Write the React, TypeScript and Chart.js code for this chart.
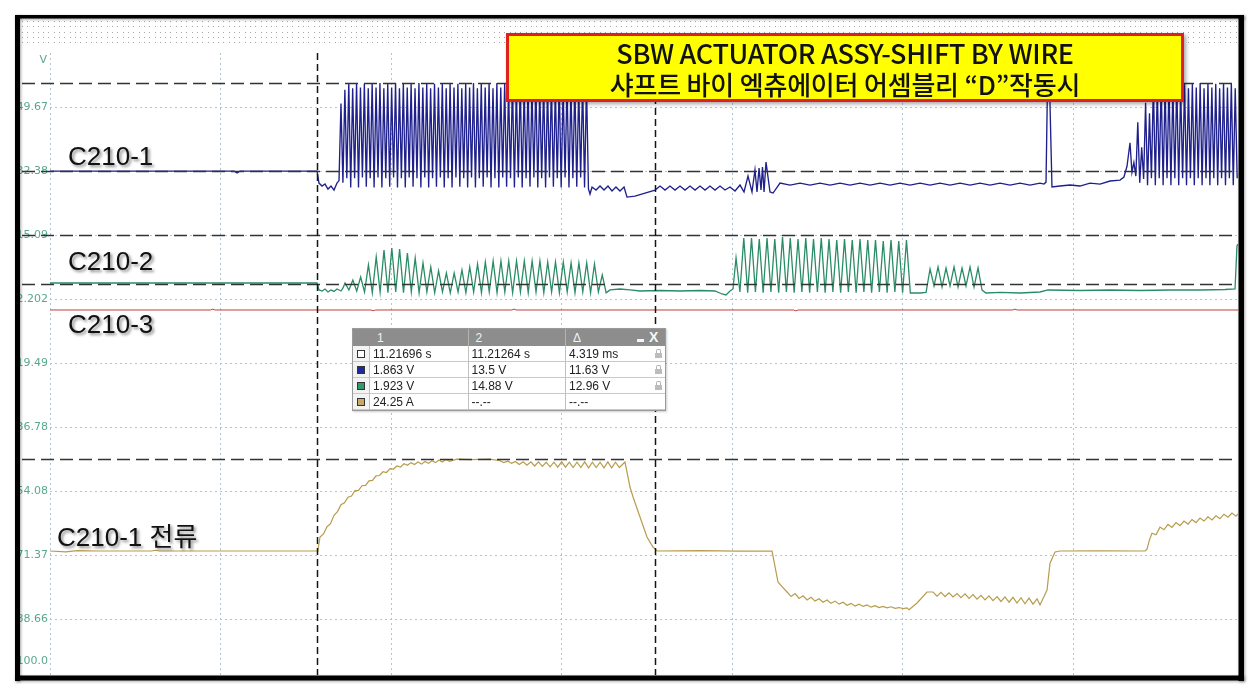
import React, { useEffect, useRef } from "react";
import { Chart, registerables } from "chart.js";

Chart.register(...registerables);

// ---------------- text ----------------
const AXIS_UNIT = "V";
const TICK_VALUES = [49.67, 32.38, 15.09, -2.202, -19.49, -36.78, -54.08, -71.37, -88.66, -100.0];
const TICK_LABELS = ["49.67", "32.38", "15.09", "2.202", "19.49", "36.78", "54.08", "71.37", "88.66", "100.0"];
const GRID_TIMES_MS = [0, 2.178, 4.356, 6.534, 8.712, 10.89, 13.068];
const TITLE_LINES = ["SBW  ACTUATOR ASSY-SHIFT BY WIRE", "샤프트 바이 엑츄에이터 어셈블리 “D”작동시"];
const CHANNEL_LABELS = ["C210-1", "C210-2", "C210-3", "C210-1 전류"];

// ---------------- cursors ----------------
const TIME_ORIGIN_S = 11.209228;
const CURSOR_TIMES_S = [11.21696, 11.21264];
const BLUE_CURSORS_V = [1.863, 13.5];
const GREEN_CURSORS_V = [1.923, 14.88];
const AMP_CURSORS_A = [24.25];

const TABLE_HEAD = ["1", "2", "Δ"];
const TABLE_TIME = ["11.21696 s", "11.21264 s", "4.319 ms"];
const TABLE_BLUE = ["1.863 V", "13.5 V", "11.63 V"];
const TABLE_GREEN = ["1.923 V", "14.88 V", "12.96 V"];
const TABLE_AMP = ["24.25 A", "--.--", "--.--"];

// ---------------- C210-1 (V) ----------------
const BLUE_LEAD = [
  [0, 1.86], [2.351, 1.86], [2.39, 1.6], [2.428, 1.86], [3.412, 1.86], [3.437, 0.27], [3.476, -0.12],
  [3.514, 0.14], [3.552, -0.52], [3.591, -0.12], [3.629, -0.65], [3.667, 0.27], [3.693, 0.6],
];
const BLUE_BURST1_START = 3.718;
const BLUE_STEP = 0.0249;
const BLUE_BURST1_PEAKS = [
  10.8, 12.6, 13.5, 12.8, 13.5, 12.9, 13.4, 12.8, 13.5, 12.9, 13.5, 12.8, 13.4, 12.9, 13.5, 12.8,
  13.5, 12.9, 13.4, 12.8, 13.5, 12.9, 13.5, 12.8, 13.4, 12.9, 13.5, 12.8, 13.5, 12.9, 13.4, 12.8,
  13.5, 12.9, 13.5, 12.8, 13.4, 12.9, 13.5, 12.8, 13.5, 12.9, 13.4, 12.8, 13.5, 12.9, 13.5, 12.8,
  13.4, 12.9, 13.5, 12.8, 13.5, 12.9, 13.4, 12.8, 13.5, 12.9, 13.5, 12.8, 13.4, 12.9, 13.5, 13.3,
];
const BLUE_BURST1_TROUGHS = [
  0.3, 0.9, -0.3, 0.9, -0.3, 1.0, -0.2, 0.9, -0.3, 1.0, -0.3, 0.9, -0.2, 1.0, -0.3, 0.9,
  -0.3, 1.0, -0.2, 0.9, -0.3, 1.0, -0.3, 0.9, -0.2, 1.0, -0.3, 0.9, -0.3, 1.0, -0.2, 0.9,
  -0.3, 1.0, -0.3, 0.9, -0.2, 1.0, -0.3, 0.9, -0.3, 1.0, -0.2, 0.9, -0.3, 1.0, -0.3, 0.9,
  -0.2, 1.0, -0.3, 0.9, -0.3, 1.0, -0.2, 0.9, -0.3, 1.0, -0.3, 0.9, -0.2, 1.0, -0.3, -0.5,
];
const BLUE_MID = [
  [6.9, -1.18], [6.926, -0.25], [6.977, -0.65], [7.028, -0.12], [7.079, -0.65], [7.13, -0.12], [7.181, -0.78],
  [7.232, -0.25], [7.283, -0.78], [7.335, -0.25], [7.373, -1.58], [7.475, -1.45], [7.603, -1.05], [7.731, -0.65],
  [7.795, -0.12], [7.859, -0.65], [7.922, -0.12], [7.986, -0.65], [8.05, -0.12], [8.114, -0.65], [8.178, -0.12],
  [8.242, -0.65], [8.306, -0.12], [8.37, -0.65], [8.433, -0.12], [8.497, -0.65], [8.561, -0.12], [8.625, -0.65],
  [8.689, -0.25], [8.753, -0.78], [8.817, 0.01], [8.868, -0.91], [8.919, 1.2], [8.97, -0.91], [9.008, 2.0],
  [9.034, -0.91], [9.06, 2.26], [9.085, -0.65], [9.104, 2.39], [9.124, -0.91], [9.149, 3.05], [9.2, -0.91],
  [9.239, -1.05], [9.328, 0.27], [9.456, 0.0], [9.584, 0.27], [9.711, 0.0], [9.839, 0.27], [9.967, 0.0],
  [10.095, 0.27], [10.222, 0.0], [10.35, 0.27], [10.478, 0.0], [10.606, 0.27], [10.733, 0.0], [10.861, 0.27],
  [10.989, 0.0], [11.117, 0.27], [11.245, 0.0], [11.372, 0.27], [11.5, 0.0], [11.628, 0.27], [11.756, 0.0],
  [11.884, 0.27], [12.011, 0.0], [12.139, 0.27], [12.267, 0.0], [12.395, 0.27], [12.522, 0.0], [12.65, 0.27],
  [12.701, 0.14], [12.727, 0.4], [12.746, 13.5], [12.772, 13.2], [12.803, -0.25], [12.906, -0.12],
  [13.033, 0.01], [13.161, -0.12], [13.289, 0.27], [13.417, 0.14], [13.545, 0.54], [13.672, 0.67],
  [13.723, 1.07], [13.762, 2.5],
];
const BLUE_BURST2_START = 13.8;
const BLUE_BURST2_PEAKS = [
  5.6, 3.0, 8.3, 5.0, 10.9, 9.5, 13.5, 12.8, 13.5, 12.9, 13.4, 12.8, 13.5, 12.9,
  13.5, 12.8, 13.4, 12.9, 13.5, 12.8, 13.5, 12.9, 13.4, 12.8, 13.5, 12.9, 13.5, 12.8,
];
const BLUE_BURST2_TROUGHS = [
  1.7, 1.2, 0.3, 0.8, 0.0, 0.9, 0.0, 0.9, 0.0, 0.9, 0.0, 0.9, 0.0, 0.9,
  0.0, 0.9, 0.0, 0.9, 0.0, 0.9, 0.0, 0.9, 0.0, 0.9, 0.0, 0.9, 0.0, 0.9,
];

// ---------------- C210-2 (V) ----------------
const GREEN_LEAD = [
  [0, 2.19], [3.412, 2.19], [3.437, 0.34], [3.476, 0.07], [3.514, 0.6], [3.552, -0.19], [3.591, 0.34],
  [3.629, -0.05], [3.667, 0.6], [3.718, 0.07], [3.744, 0.87],
];
const GREEN_BURST1_START = 3.77;
const GREEN_STEP1 = 0.0498;
const GREEN_BURST1_PEAKS = [
  2.19, 2.98, 3.77, 6.95, 9.06, 10.91, 11.44, 11.18, 10.12, 8.8, 7.48, 6.42, 5.36, 4.83, 4.83, 5.62, 6.42,
  7.21, 7.74, 8.0, 8.0, 8.0, 8.0, 8.0, 8.0, 8.0, 7.74, 7.74, 7.74, 7.48, 7.48, 7.48, 7.21, 4.3,
];
const GREEN_BURST1_TROUGHS = [
  0.34, 0.07, -0.19, -0.4, -0.19, -0.4, -0.19, -0.4, -0.19, -0.4, -0.19, -0.4, -0.19, -0.4, -0.19, -0.4, -0.19,
  -0.4, -0.19, -0.4, -0.19, -0.4, -0.19, -0.4, -0.19, -0.4, -0.19, -0.4, -0.19, -0.4, -0.19, -0.4, -0.19, -0.4,
];
const GREEN_MID = [
  [7.156, 0.34], [7.283, 0.6], [7.411, 0.34], [7.539, 0.07], [7.795, 0.2], [8.05, 0.07], [8.306, 0.2],
  [8.497, 0.07], [8.587, -0.72], [8.638, -0.98], [8.689, 0.07], [8.727, 0.6],
];
const GREEN_BURST2_START = 8.766;
const GREEN_STEP2 = 0.0495;
const GREEN_BURST2_PEAKS = [
  8.8, 14.09, 14.09, 13.83, 14.09, 13.83, 14.35, 14.09, 13.83, 14.09, 13.83, 14.09,
  13.83, 13.56, 13.83, 13.56, 13.83, 13.56, 13.56, 13.3, 13.56, 13.3, 13.56,
];
const GREEN_BURST2_TROUGHS = [
  -0.19, -0.4, -0.19, -0.4, -0.19, -0.4, -0.19, -0.4, -0.19, -0.4, -0.19, -0.4,
  -0.19, -0.4, -0.19, -0.4, -0.19, -0.4, -0.19, -0.4, -0.19, -0.4, -0.46,
];
const GREEN_GAP = [[11.04, -0.46], [11.117, -0.46], [11.194, -0.32]];
const GREEN_BURST3_START = 11.245;
const GREEN_STEP3 = 0.0511;
const GREEN_BURST3_PEAKS = [5.9, 6.42, 6.15, 6.42, 6.15, 6.42, 6.15];
const GREEN_BURST3_TROUGHS = [1.4, 1.1, 1.4, 1.1, 1.4, 1.1, 0.3];
const GREEN_TAIL = [
  [11.96, -0.46], [12.139, -0.32], [12.395, -0.46], [12.65, -0.19], [12.752, 0.34], [13.161, 0.2],
  [13.545, 0.34], [13.928, 0.2], [14.311, 0.34], [14.695, 0.34], [15.014, 0.47], [15.142, 0.6], [15.167, 11.97],
  [15.18, 12.5],
];

// ---------------- C210-3 ----------------
const RED_POINTS = [
  [0, -5.17], [2.05, -5.17], [2.08, -4.95], [2.11, -5.17], [4.1, -5.17], [4.13, -5.35], [4.16, -5.17],
  [5.9, -5.17], [5.93, -4.95], [5.96, -5.17], [9.5, -5.17], [9.53, -5.4], [9.56, -5.17], [12.3, -5.17],
  [12.33, -4.95], [12.36, -5.17], [15.18, -5.17],
];

// ---------------- C210-1 전류 (A) ----------------
const AMP_LEAD = [[0, 0], [0.2, -0.25], [0.35, 0.1], [0.6, 0.0], [1.3, 0.0], [1.35, 0.2], [1.4, 0.0], [3.412, 0], [3.424, 0.3]];
const AMP_RISE_START = 3.45;
const AMP_RISE_STEP = 0.04472;
const AMP_RISE = [
  3.7, 4.5, 6.4, 7.2, 9.4, 10.4, 12.2, 12.7, 14.2, 14.5, 15.9, 16.0, 17.2, 17.3, 18.5, 18.6, 19.8, 19.9, 20.9,
  20.7, 21.7, 21.6, 22.4, 22.1, 23.0, 22.6, 23.3, 22.8, 23.45, 22.9, 23.6, 23.1, 23.8, 23.3, 24.0, 23.45, 24.15, 23.65,
];
const AMP_PLATEAU_PTS = [[5.2, 24.2], [5.367, 24.1], [5.622, 24.2]];
const AMP_RIPPLE_START = 5.75;
const AMP_RIPPLE_STEP = 0.0492;
const AMP_RIPPLE = [
  23.8, 23.3, 23.7, 23.1, 23.6, 22.8, 23.5, 22.6, 23.5, 22.4, 23.5, 22.3, 23.4, 22.2, 23.4, 22.1,
  23.5, 22.1, 23.4, 22.0, 23.4, 22.0, 23.5, 21.9, 23.4, 22.0, 23.4, 21.9, 23.5, 21.9, 23.4, 22.0,
];
const AMP_DROP = [
  [7.347, 23.46], [7.411, 16.87], [7.45, 14.23], [7.539, 8.96], [7.628, 3.69], [7.705, 1.05], [7.756, 0],
  [8.3, 0.1], [8.8, -0.05], [9.226, 0], [9.302, -8.17], [9.36, -9.5],
];
const AMP_NEG_STEP = 0.0511;
const AMP_NEG_A_START = 9.418;
const AMP_NEG_A = [
  -10.8, -12.0, -11.2, -12.5, -11.8, -12.9, -12.2, -13.2, -12.6, -13.5, -12.9, -13.8, -13.2, -14.0, -13.5, -14.3,
  -13.8, -14.5, -14.0, -14.6, -14.2, -14.8, -14.4, -14.9, -14.6, -15.0, -14.7, -15.1, -14.9, -15.2, -15.0,
];
const AMP_DIP = [[10.977, -15.5], [11.079, -13.7], [11.206, -10.8]];
const AMP_NEG_B_START = 11.283;
const AMP_NEG_B = [
  -10.8, -11.9, -10.9, -12.0, -11.0, -12.1, -11.2, -12.3, -11.3, -12.5, -11.5, -12.7, -11.7, -12.9,
  -11.8, -13.1, -12.0, -13.3, -12.1, -13.5, -12.2, -13.7, -12.3, -13.9, -12.4, -14.0, -12.6,
];
const AMP_RETURN = [
  [12.65, -14.2], [12.74, -10.3], [12.778, -3.2], [12.842, -0.26], [12.906, 0], [13.417, 0.05], [13.992, 0],
  [14.017, 0.5], [14.05, 3.0],
];
const AMP_END_START = 14.081;
const AMP_END = [4.7, 4.3, 6.3, 5.6, 7.0, 6.2, 7.5, 6.7, 7.9, 7.1, 8.3, 7.5, 8.7, 7.9, 9.0, 8.2, 9.3, 8.5, 9.7, 8.9, 10.0, 9.2, 10.3];

// ---------------- layout (positions, not data) ----------------
const W = 1259;
const H = 697;
const X_MAX_MS = 15.18;
const LABEL_RANGE = [-103.78, 65.34];
const BLUE_RANGE = [-64.78, 18.0];
const GREEN_RANGE = [-101.47, 64.06];
const AMP_RANGE = [-32.68, 132.32];

type P = { x: number; y: number };
const fromPairs = (pairs: number[][]): P[] => pairs.map(([x, y]) => ({ x, y }));
const fromSamples = (t0: number, dt: number, vals: number[]): P[] => vals.map((y, i) => ({ x: t0 + i * dt, y }));
const fromExtrema = (t0: number, dt: number, peaks: number[], troughs: number[]): P[] => {
  const out: P[] = [];
  peaks.forEach((p, i) => {
    out.push({ x: t0 + 2 * i * dt, y: p });
    if (i < troughs.length) out.push({ x: t0 + (2 * i + 1) * dt, y: troughs[i] });
  });
  return out;
};

const blueData = [
  ...fromPairs(BLUE_LEAD),
  ...fromExtrema(BLUE_BURST1_START, BLUE_STEP, BLUE_BURST1_PEAKS, BLUE_BURST1_TROUGHS),
  ...fromPairs(BLUE_MID),
  ...fromExtrema(BLUE_BURST2_START, BLUE_STEP, BLUE_BURST2_PEAKS, BLUE_BURST2_TROUGHS),
];
const greenData = [
  ...fromPairs(GREEN_LEAD),
  ...fromExtrema(GREEN_BURST1_START, GREEN_STEP1, GREEN_BURST1_PEAKS, GREEN_BURST1_TROUGHS),
  ...fromPairs(GREEN_MID),
  ...fromExtrema(GREEN_BURST2_START, GREEN_STEP2, GREEN_BURST2_PEAKS, GREEN_BURST2_TROUGHS),
  ...fromPairs(GREEN_GAP),
  ...fromExtrema(GREEN_BURST3_START, GREEN_STEP3, GREEN_BURST3_PEAKS, GREEN_BURST3_TROUGHS),
  ...fromPairs(GREEN_TAIL),
];
const redData = fromPairs(RED_POINTS);
const ampData = [
  ...fromPairs(AMP_LEAD),
  ...fromSamples(AMP_RISE_START, AMP_RISE_STEP, AMP_RISE),
  ...fromPairs(AMP_PLATEAU_PTS),
  ...fromSamples(AMP_RIPPLE_START, AMP_RIPPLE_STEP, AMP_RIPPLE),
  ...fromPairs(AMP_DROP),
  ...fromSamples(AMP_NEG_A_START, AMP_NEG_STEP, AMP_NEG_A),
  ...fromPairs(AMP_DIP),
  ...fromSamples(AMP_NEG_B_START, AMP_NEG_STEP, AMP_NEG_B),
  ...fromPairs(AMP_RETURN),
  ...fromSamples(AMP_END_START, AMP_NEG_STEP, AMP_END),
];

const scopePlugin = {
  id: "scope",
  beforeDraw(chart: any) {
    const ctx = chart.ctx;
    ctx.save();
    ctx.fillStyle = "#ffffff";
    ctx.fillRect(0, 0, chart.width, chart.height);
    ctx.fillStyle = "#a6a6a6";
    for (let y = 21; y <= 47; y += 5.3) {
      for (let x = 22; x < 1238; x += 5.3) ctx.fillRect(Math.round(x), Math.round(y), 1, 1);
    }
    ctx.restore();
  },
  beforeDatasetsDraw(chart: any) {
    const { ctx, chartArea: ca, scales } = chart;
    const xs = scales.x;
    const yl = scales.yLabel;
    ctx.save();
    ctx.strokeStyle = "#b3c5ce";
    ctx.lineWidth = 1;
    ctx.setLineDash([2, 3]);
    GRID_TIMES_MS.forEach((t) => {
      const px = Math.round(xs.getPixelForValue(t)) + 0.5;
      ctx.beginPath();
      ctx.moveTo(px, ca.top + 4);
      ctx.lineTo(px, ca.bottom);
      ctx.stroke();
    });
    TICK_VALUES.forEach((v, i) => {
      if (i === TICK_VALUES.length - 1) return;
      const py = Math.round(yl.getPixelForValue(v)) + 0.5;
      ctx.beginPath();
      ctx.moveTo(ca.left, py);
      ctx.lineTo(ca.right, py);
      ctx.stroke();
    });
    ctx.setLineDash([]);
    ctx.fillStyle = "#5aa88b";
    ctx.font = '11px "DejaVu Sans", sans-serif';
    ctx.textAlign = "right";
    ctx.textBaseline = "middle";
    TICK_VALUES.forEach((v, i) => ctx.fillText(TICK_LABELS[i], 48, yl.getPixelForValue(v)));
    ctx.fillText(AXIS_UNIT, 47, 60);
    ctx.restore();
  },
  afterDatasetsDraw(chart: any) {
    const { ctx, chartArea: ca, scales } = chart;
    ctx.save();
    ctx.strokeStyle = "#333333";
    ctx.lineWidth = 1.7;
    ctx.setLineDash([13, 6]);
    const hLine = (py: number) => {
      const y = Math.round(py) + 0.5;
      ctx.beginPath();
      ctx.moveTo(22, y);
      ctx.lineTo(ca.right, y);
      ctx.stroke();
    };
    BLUE_CURSORS_V.forEach((v) => hLine(scales.yBlue.getPixelForValue(v)));
    GREEN_CURSORS_V.forEach((v) => hLine(scales.yGreen.getPixelForValue(v)));
    AMP_CURSORS_A.forEach((v) => hLine(scales.yAmp.getPixelForValue(v)));
    ctx.strokeStyle = "#151515";
    ctx.lineWidth = 1.5;
    ctx.setLineDash([7, 4]);
    CURSOR_TIMES_S.forEach((s) => {
      const px = Math.round(scales.x.getPixelForValue((s - TIME_ORIGIN_S) * 1000)) + 0.5;
      ctx.beginPath();
      ctx.moveTo(px, ca.top + 4);
      ctx.lineTo(px, ca.bottom);
      ctx.stroke();
    });
    ctx.restore();
  },
  afterDraw(chart: any) {
    const ctx = chart.ctx;
    ctx.save();
    ctx.shadowColor = "rgba(0,0,0,0.35)";
    ctx.shadowBlur = 3;
    ctx.shadowOffsetX = 1;
    ctx.shadowOffsetY = 1;
    ctx.fillStyle = "#000";
    ctx.fillRect(15, 15, 1229, 3.5);
    ctx.fillRect(15, 15, 5, 666);
    ctx.fillRect(1238.5, 15, 5.5, 666);
    ctx.fillRect(15, 675.5, 1229, 5);
    ctx.restore();
  },
};

const lineDs = (label: string, data: P[], axis: string, color: string, width: number) => ({
  label,
  data,
  yAxisID: axis,
  xAxisID: "x",
  showLine: true,
  borderColor: color,
  backgroundColor: color,
  borderWidth: width,
  pointRadius: 0,
  tension: 0,
  fill: false,
});

const labelStyle: React.CSSProperties = {
  position: "absolute",
  font: '26px "Liberation Sans", Arial, "Noto Sans CJK KR", sans-serif',
  lineHeight: "26px",
  color: "#111",
  whiteSpace: "nowrap",
  textShadow: "2px 2px 3px rgba(0,0,0,0.45)",
};

const Lock = ({ left, top }: { left: number; top: number }) => (
  <div style={{ position: "absolute", left, top, width: 7, height: 10 }}>
    <div style={{ position: "absolute", left: 1, top: 0, width: 3, height: 4, border: "1px solid #b4b4b4", borderBottom: "none", borderRadius: "2px 2px 0 0" }} />
    <div style={{ position: "absolute", left: 0, top: 4, width: 7, height: 5, background: "#bcbcbc" }} />
  </div>
);

const COLS = [16, 114.5, 212, 312];
const ROW_TOPS = [17, 33, 49, 65];

export default function App() {
  const ref = useRef<HTMLCanvasElement>(null);
  useEffect(() => {
    const chart = new Chart(ref.current as HTMLCanvasElement, {
      type: "scatter",
      data: {
        datasets: [
          lineDs("C210-3", redData, "yLabel", "#c43a3a", 1),
          lineDs("C210-2", greenData, "yGreen", "#2a8c66", 1.3),
          lineDs("C210-1", blueData, "yBlue", "#1f208c", 1.35),
          lineDs("C210-1 전류", ampData, "yAmp", "#b79c4a", 1.2),
        ] as any,
      },
      options: {
        animation: false,
        responsive: false,
        devicePixelRatio: 1,
        events: [],
        layout: { autoPadding: false, padding: { left: 50, right: 21, top: 49, bottom: 22 } },
        plugins: { legend: { display: false }, tooltip: { enabled: false }, title: { display: false } },
        scales: {
          x: { type: "linear", min: 0, max: X_MAX_MS, display: false },
          yLabel: { type: "linear", position: "left", min: LABEL_RANGE[0], max: LABEL_RANGE[1], display: false },
          yBlue: { type: "linear", position: "left", min: BLUE_RANGE[0], max: BLUE_RANGE[1], display: false },
          yGreen: { type: "linear", position: "left", min: GREEN_RANGE[0], max: GREEN_RANGE[1], display: false },
          yAmp: { type: "linear", position: "left", min: AMP_RANGE[0], max: AMP_RANGE[1], display: false },
        },
      } as any,
      plugins: [scopePlugin],
    });
    return () => chart.destroy();
  }, []);

  const tableRows = [
    { icon: "#ffffff", cells: TABLE_TIME, lock: true },
    { icon: "#1c2a9c", cells: TABLE_BLUE, lock: true },
    { icon: "#2e9a6e", cells: TABLE_GREEN, lock: true },
    { icon: "#c6aa68", cells: TABLE_AMP, lock: false },
  ];

  return (
    <div style={{ position: "fixed", left: 0, top: 0, width: W, height: H, background: "#fff", overflow: "hidden" }}>
      <canvas ref={ref} width={W} height={H} style={{ position: "absolute", left: 0, top: 0, width: W, height: H }} />

      <div style={{ ...labelStyle, left: 68, top: 143 }}>{CHANNEL_LABELS[0]}</div>
      <div style={{ ...labelStyle, left: 68, top: 248 }}>{CHANNEL_LABELS[1]}</div>
      <div style={{ ...labelStyle, left: 68, top: 311 }}>{CHANNEL_LABELS[2]}</div>
      <div style={{ ...labelStyle, left: 57, top: 524 }}>{CHANNEL_LABELS[3]}</div>

      <div
        style={{
          position: "absolute",
          left: 506,
          top: 33,
          width: 672,
          height: 63,
          background: "#ffff00",
          border: "3px solid #e0201c",
          boxShadow: "2px 2px 4px rgba(0,0,0,0.35)",
          textAlign: "center",
          color: "#111",
          fontFamily: '"Noto Sans CJK KR", sans-serif',
          fontWeight: 500,
        }}
      >
        <div style={{ fontSize: 27, lineHeight: "33px", height: 33, whiteSpace: "nowrap", letterSpacing: -0.3 }}>{TITLE_LINES[0]}</div>
        <div style={{ fontSize: 26, lineHeight: "30px", height: 30, whiteSpace: "nowrap", letterSpacing: -0.2 }}>{TITLE_LINES[1]}</div>
      </div>

      <div
        style={{
          position: "absolute",
          left: 352,
          top: 328,
          width: 312,
          height: 81,
          background: "#ffffff",
          border: "1px solid #9a9a9a",
          boxShadow: "1px 1px 2px rgba(0,0,0,0.2)",
          font: '12px "Liberation Sans", Arial, sans-serif',
          color: "#222",
        }}
      >
        <div style={{ position: "absolute", left: 0, top: 0, width: 312, height: 17, background: "#8d8d8d" }} />
        {TABLE_HEAD.map((h, i) => (
          <div key={"h" + i} style={{ position: "absolute", left: COLS[i] + 8, top: 1, lineHeight: "16px", color: "#f2f2f2" }}>{h}</div>
        ))}
        <div style={{ position: "absolute", left: COLS[1], top: 0, width: 1, height: 17, background: "#b4b4b4" }} />
        <div style={{ position: "absolute", left: COLS[2], top: 0, width: 1, height: 17, background: "#b4b4b4" }} />
        <div style={{ position: "absolute", left: 284, top: 10, width: 7, height: 3, background: "#f4f4f4" }} />
        <div style={{ position: "absolute", left: 296, top: 0, lineHeight: "16px", color: "#f6f6f6", fontWeight: 700, fontSize: 14 }}>X</div>
        <div style={{ position: "absolute", left: 0, top: 17, width: 16, height: 64, background: "#f3f3f3" }} />
        {tableRows.map((r, ri) => (
          <React.Fragment key={"r" + ri}>
            <div style={{ position: "absolute", left: 4, top: ROW_TOPS[ri] + 4, width: 6, height: 6, background: r.icon, border: "1px solid #333" }} />
            {r.cells.map((c, ci) => (
              <div key={ci} style={{ position: "absolute", left: COLS[ci] + 4, top: ROW_TOPS[ri], lineHeight: "16px", whiteSpace: "nowrap" }}>{c}</div>
            ))}
            {r.lock && <Lock left={302} top={ROW_TOPS[ri] + 3} />}
            <div style={{ position: "absolute", left: 0, top: ROW_TOPS[ri] + 15, width: 312, height: 1, background: "#c9c9c9" }} />
          </React.Fragment>
        ))}
        <div style={{ position: "absolute", left: COLS[0], top: 17, width: 1, height: 64, background: "#c0c0c0" }} />
        <div style={{ position: "absolute", left: COLS[1], top: 17, width: 1, height: 64, background: "#c0c0c0" }} />
        <div style={{ position: "absolute", left: COLS[2], top: 17, width: 1, height: 64, background: "#c0c0c0" }} />
      </div>
    </div>
  );
}
